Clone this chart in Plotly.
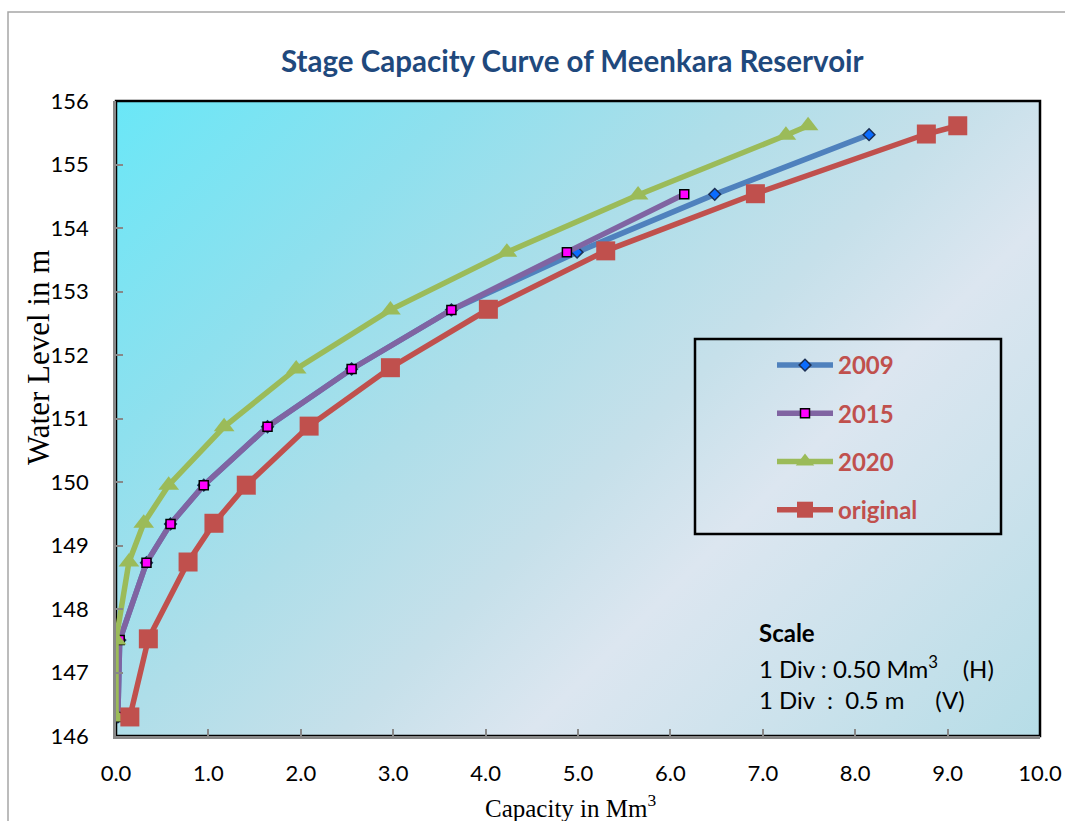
import base64
import plotly.graph_objects as go

# ---------------- data ----------------
cap_2009 = [0.02, 0.04, 0.33, 0.59, 0.95, 1.64, 2.55, 3.63, 4.99, 6.48, 8.15]
lvl_2009 = [146.30, 147.51, 148.73, 149.34, 149.95, 150.87, 151.78, 152.71, 153.62, 154.53, 155.47]

cap_2015 = [0.02, 0.04, 0.33, 0.59, 0.95, 1.64, 2.55, 3.63, 4.88, 6.15]
lvl_2015 = [146.30, 147.51, 148.73, 149.34, 149.95, 150.87, 151.78, 152.71, 153.62, 154.53]

cap_2020 = [0.0, 0.0, 0.14, 0.30, 0.57, 1.17, 1.95, 2.97, 4.23, 5.65, 7.25, 7.49]
lvl_2020 = [146.30, 147.51, 148.74, 149.35, 149.95, 150.87, 151.78, 152.71, 153.62, 154.52, 155.46, 155.61]

cap_orig = [0.15, 0.35, 0.78, 1.06, 1.41, 2.09, 2.97, 4.03, 5.30, 6.92, 8.77, 9.11]
lvl_orig = [146.30, 147.53, 148.74, 149.35, 149.95, 150.88, 151.80, 152.72, 153.64, 154.54, 155.48, 155.61]

x_ticks = [0, 1, 2, 3, 4, 5, 6, 7, 8, 9, 10]
y_ticks = [146, 147, 148, 149, 150, 151, 152, 153, 154, 155, 156]

series_names = ["2009", "2015", "2020", "original"]

# ---------------- layout geometry (pixels) ----------------
W, H = 1065, 821
L, R, T, B = 116, 1040, 101, 736
PW, PH = R - L, B - T


def px(x):
    return (x - L) / PW


def py(y):
    return (B - y) / PH


# gradient background for the plot area
svg = f'''<svg xmlns="http://www.w3.org/2000/svg" width="{PW}" height="{PH}" viewBox="0 0 {PW} {PH}" preserveAspectRatio="none">
<defs><linearGradient id="g" gradientUnits="userSpaceOnUse" x1="0" y1="0" x2="{(PW+PH)/2:.1f}" y2="{(PW+PH)/2:.1f}">
<stop offset="0" stop-color="#6AE7F7"/>
<stop offset="0.22" stop-color="#8EE0EE"/>
<stop offset="0.40" stop-color="#AEDEE9"/>
<stop offset="0.55" stop-color="#C6E0EA"/>
<stop offset="0.67" stop-color="#DCE6F0"/>
<stop offset="0.82" stop-color="#CCE2EC"/>
<stop offset="1" stop-color="#B6DDE7"/>
</linearGradient></defs>
<rect x="0" y="0" width="{PW}" height="{PH}" fill="url(#g)"/></svg>'''
svg_uri = "data:image/svg+xml;base64," + base64.b64encode(svg.encode()).decode()

sans = "Lato, 'Open Sans', sans-serif"
serif = "'Liberation Serif', 'Times New Roman', serif"
tick_font = dict(family=sans, size=22, color="#000000")

fig = go.Figure()

fig.add_trace(go.Scatter(
    x=cap_2009, y=lvl_2009, name=series_names[0], legendgroup="a", mode="lines+markers",
    line=dict(color="#4F81BD", width=5.5),
    marker=dict(symbol="diamond", size=9, color="#0A6CFF", line=dict(color="#1B2F55", width=1.5)),
))
fig.add_trace(go.Scatter(
    x=cap_2015, y=lvl_2015, name=series_names[1], legendgroup="b", mode="lines+markers",
    line=dict(color="#8064A2", width=5.5),
    marker=dict(symbol="square", size=9, color="#FF00FF", line=dict(color="#000000", width=1.5)),
))
fig.add_trace(go.Scatter(
    x=cap_2020, y=lvl_2020, name=series_names[2], legendgroup="c", mode="lines+markers",
    line=dict(color="#9BBB59", width=5.5),
    marker=dict(symbol="triangle-up", size=18, color="#9BBB59"),
))
fig.add_trace(go.Scatter(
    x=cap_orig, y=lvl_orig, name=series_names[3], legendgroup="d", mode="lines+markers",
    line=dict(color="#C0504D", width=5.5),
    marker=dict(symbol="square", size=19, color="#C0504D"),
))

fig.update_layout(
    width=W, height=H,
    margin=dict(l=L, r=W - R, t=T, b=H - B, pad=0, autoexpand=False),
    paper_bgcolor="#FFFFFF",
    plot_bgcolor="#B8DEE8",
    showlegend=True,
    legend=dict(
        x=px(772), y=py(343), xanchor="left", yanchor="top",
        bgcolor="rgba(0,0,0,0)", borderwidth=0,
        font=dict(family=sans, size=24, color="#C0504D", weight="bold"),
        itemwidth=56, tracegroupgap=14, traceorder="grouped",
    ),
    xaxis=dict(
        range=[0, 10], tickvals=x_ticks, tickformat=".1f", automargin=False,
        showgrid=False, zeroline=False,
        ticks="inside", ticklen=7, tickwidth=2, tickcolor="#888888",
        showline=True, linecolor="#888888", linewidth=2.5,
        tickfont=tick_font, ticklabelstandoff=16,
    ),
    yaxis=dict(
        range=[146, 156], tickvals=y_ticks, automargin=False,
        showgrid=False, zeroline=False,
        ticks="inside", ticklen=7, tickwidth=2, tickcolor="#888888",
        showline=True, linecolor="#888888", linewidth=2.5,
        tickfont=tick_font, ticklabelstandoff=20,
    ),
    images=[dict(source=svg_uri, xref="paper", yref="paper", x=0, y=1, sizex=1, sizey=1,
                 xanchor="left", yanchor="top", sizing="stretch", layer="below")],
    shapes=[
        # plot-area border (black, top/right visible)
        dict(type="rect", xref="paper", yref="paper", x0=0, y0=0, x1=1, y1=1,
             line=dict(color="#000000", width=2.5), layer="below"),
        # outer chart border
        dict(type="rect", xref="paper", yref="paper", x0=px(8), y0=py(840), x1=px(1085), y1=py(12),
             line=dict(color="#A6A6A6", width=1.5), layer="below"),
        # legend box
        dict(type="rect", xref="paper", yref="paper", x0=px(695), y0=py(534), x1=px(1001), y1=py(339),
             line=dict(color="#000000", width=2.5), layer="above"),
    ],
    annotations=[
        dict(text="<b>Stage Capacity Curve of Meenkara Reservoir</b>", xref="paper", yref="paper",
             x=px(572), y=py(60), xanchor="center", yanchor="middle", showarrow=False,
             font=dict(family=sans, size=29.5, color="#1F497D")),
        dict(text="Water Level in m", xref="paper", yref="paper", x=px(38), y=py(358),
             xanchor="center", yanchor="middle", textangle=-90, showarrow=False,
             font=dict(family=serif, size=31, color="#000000")),
        dict(text="Capacity in Mm<sup>3</sup>", xref="paper", yref="paper", x=px(570), y=py(806),
             xanchor="center", yanchor="middle", showarrow=False,
             font=dict(family=serif, size=25, color="#000000")),
        dict(text="<b>Scale</b>", xref="paper", yref="paper", x=px(757), y=py(632),
             xanchor="left", yanchor="middle", showarrow=False,
             font=dict(family=sans, size=24, color="#000000")),
        dict(text="1 Div : 0.50 Mm<sup>3</sup>    (H)", xref="paper", yref="paper", x=px(757), y=py(667),
             xanchor="left", yanchor="middle", showarrow=False,
             font=dict(family=sans, size=24, color="#000000")),
        dict(text="1 Div  :  0.5 m     (V)", xref="paper", yref="paper", x=px(757), y=py(699),
             xanchor="left", yanchor="middle", showarrow=False,
             font=dict(family=sans, size=24, color="#000000")),
    ],
)

fig.write_html("out.html")
